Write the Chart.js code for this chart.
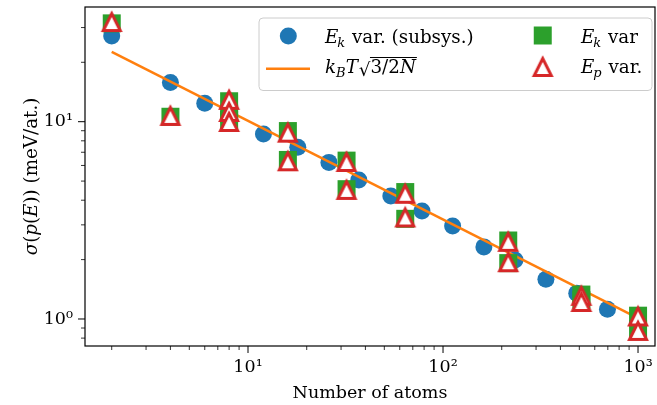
<!DOCTYPE html>
<html><head><meta charset="utf-8">
<script src="https://cdn.jsdelivr.net/npm/chart.js@4/dist/chart.umd.min.js"></script>
<style>html,body{margin:0;padding:0;background:#fff}#wrap{width:657px;height:405px}</style>
</head><body><div id="wrap"><canvas id="c" width="657" height="405"></canvas></div>
<script>
// ---- data ----
const subsysN = [2, 4, 6, 12, 18, 26, 37, 54, 78, 112, 162, 234, 337, 485, 697];
const subsysSigma = [27.2, 15.8, 12.4, 8.66, 7.42, 6.22, 5.07, 4.20, 3.53, 2.96, 2.32, 1.99, 1.59, 1.35, 1.12];
const fitN = [2, 1000];
const fitSigma = [22.6, 1.01];
const fullN = [2, 4, 8, 8, 8, 16, 16, 32, 32, 64, 64, 216, 216, 512, 512, 1000, 1000];
const ekSigma = [31.5, 10.6, 12.7, 11.0, 10.2, 8.97, 6.40, 6.35, 4.55, 4.40, 3.22, 2.50, 1.92, 1.33, 1.25, 1.04, 0.89];
const epSigma = [32.0, 10.7, 12.9, 11.2, 9.97, 8.80, 6.30, 6.25, 4.51, 4.31, 3.27, 2.46, 1.94, 1.31, 1.22, 1.03, 0.87];
const xMajorTicks = [10, 100, 1000];
const xMajorLabels = ['10\u00B9', '10\u00B2', '10\u00B3'];
const xMinorTicks = [2,3,4,5,6,7,8,9,20,30,40,50,60,70,80,90,200,300,400,500,600,700,800,900];
const yMajorTicks = [1, 10];
const yMajorLabels = ['10\u2070', '10\u00B9'];
const yMinorTicks = [0.8, 0.9, 2,3,4,5,6,7,8,9, 20, 30];
const legendLabels = ['E_k var. (subsys.)', 'k_BT sqrt(3/2N)', 'E_k var', 'E_p var.'];

const FONT = '"DejaVu Serif", "Liberation Serif", serif';
const FS = 17.5;      // ticks and x title
const LFS = 18.3;     // legend and y title

// marker images (matplotlib-like)
function makeTri() {
  const c = document.createElement('canvas'); c.width = 30; c.height = 30;
  const g = c.getContext('2d'); const a = 8.5, m = 15;
  g.beginPath(); g.moveTo(m, m - a); g.lineTo(m - a, m + a); g.lineTo(m + a, m + a); g.closePath();
  g.fillStyle = '#ffffff'; g.fill();
  g.lineJoin = 'miter'; g.lineWidth = 3; g.strokeStyle = '#d62728'; g.stroke();
  return c;
}
function makeSq() {
  const c = document.createElement('canvas'); c.width = 20; c.height = 20;
  const g = c.getContext('2d'); g.fillStyle = '#2ca02c'; g.fillRect(1, 1, 18, 18);
  return c;
}
const triImg = makeTri();
const sqImg = makeSq();

function pts(xs, ys) { return xs.map((x, i) => ({x: x, y: ys[i]})); }

function segW(ctx, s) { ctx.font = (s.it ? 'italic ' : '') + (s.sz || LFS) + 'px ' + FONT; return ctx.measureText(s.t).width; }
function drawRich(ctx, segs, x, y) {
  let cx = x;
  for (const s of segs) {
    ctx.font = (s.it ? 'italic ' : '') + (s.sz || LFS) + 'px ' + FONT;
    ctx.fillText(s.t, cx, y + (s.dy || 0));
    cx += ctx.measureText(s.t).width + (s.gap || 0);
  }
  return cx;
}

const decorPlugin = {
  id: 'decor',
  afterDraw(chart) {
    const ctx = chart.ctx; const a = chart.chartArea;
    const xs = chart.scales.x, ys = chart.scales.y;
    ctx.save();
    // frame
    ctx.strokeStyle = '#000'; ctx.lineWidth = 1.2;
    ctx.strokeRect(a.left, a.top, a.right - a.left, a.bottom - a.top);
    // ticks
    ctx.lineWidth = 1;
    ctx.beginPath();
    xMajorTicks.forEach(v => { const p = xs.getPixelForValue(v); ctx.moveTo(p, a.bottom); ctx.lineTo(p, a.bottom + 7); });
    yMajorTicks.forEach(v => { const p = ys.getPixelForValue(v); ctx.moveTo(a.left, p); ctx.lineTo(a.left - 7, p); });
    ctx.stroke();
    ctx.lineWidth = 0.8;
    ctx.beginPath();
    xMinorTicks.forEach(v => { const p = xs.getPixelForValue(v); ctx.moveTo(p, a.bottom); ctx.lineTo(p, a.bottom + 4); });
    yMinorTicks.forEach(v => { const p = ys.getPixelForValue(v); ctx.moveTo(a.left, p); ctx.lineTo(a.left - 4, p); });
    ctx.stroke();

    // y title
    ctx.fillStyle = '#000'; ctx.textBaseline = 'alphabetic'; ctx.textAlign = 'left';
    const ySegs = [{t:'\u03C3', it:true}, {t:'('}, {t:'p', it:true}, {t:'('}, {t:'E', it:true}, {t:'))'}, {t:' (meV/at.)'}];
    let w = 0; ySegs.forEach(s => w += segW(ctx, s));
    ctx.save();
    ctx.translate(36.5, (a.top + a.bottom) / 2);
    ctx.rotate(-Math.PI / 2);
    drawRich(ctx, ySegs, -w / 2, 0);
    ctx.restore();

    // legend box
    const bx = 259, by = 18, bw = 393, bh = 72.5, r = 4;
    ctx.beginPath();
    ctx.moveTo(bx + r, by); ctx.lineTo(bx + bw - r, by); ctx.quadraticCurveTo(bx + bw, by, bx + bw, by + r);
    ctx.lineTo(bx + bw, by + bh - r); ctx.quadraticCurveTo(bx + bw, by + bh, bx + bw - r, by + bh);
    ctx.lineTo(bx + r, by + bh); ctx.quadraticCurveTo(bx, by + bh, bx, by + bh - r);
    ctx.lineTo(bx, by + r); ctx.quadraticCurveTo(bx, by, bx + r, by); ctx.closePath();
    ctx.fillStyle = 'rgba(255,255,255,0.8)'; ctx.fill();
    ctx.strokeStyle = '#cccccc'; ctx.lineWidth = 1; ctx.stroke();

    // legend markers
    ctx.fillStyle = '#1f77b4';
    ctx.beginPath(); ctx.arc(288.3, 36, 8.5, 0, Math.PI * 2); ctx.fill();
    ctx.strokeStyle = '#ff7f0e'; ctx.lineWidth = 2.5;
    ctx.beginPath(); ctx.moveTo(266, 68.7); ctx.lineTo(310, 68.7); ctx.stroke();
    ctx.drawImage(sqImg, 542.7 - 10, 35.5 - 10);
    ctx.drawImage(triImg, 542.7 - 15, 67 - 15);

    // legend texts
    ctx.fillStyle = '#000';
    const sub = {sz: 13, dy: 4, it: true};
    drawRich(ctx, [{t:'E', it:true, gap:-1}, Object.assign({t:'k', gap:1}, sub), {t:' var. (subsys.)'}], 325, 43.3);
    let ex = drawRich(ctx, [{t:'k', it:true}, Object.assign({t:'B'}, sub), {t:'T', it:true, gap:1}], 325, 72.5);
    ctx.font = LFS + 'px ' + FONT;
    ctx.fillText('\u221A', ex, 75.5);
    const rw = ctx.measureText('\u221A').width;
    const endX = drawRich(ctx, [{t:'3/2'}, {t:'N', it:true}], ex + rw, 72.5);
    ctx.strokeStyle = '#000'; ctx.lineWidth = 1;
    ctx.beginPath(); ctx.moveTo(ex + rw - 0.5, 57.5); ctx.lineTo(endX + 1, 57.5); ctx.stroke();
    drawRich(ctx, [{t:'E', it:true, gap:-1}, Object.assign({t:'k', gap:1}, sub), {t:' var'}], 581, 43.3);
    drawRich(ctx, [{t:'E', it:true, gap:-1}, Object.assign({t:'p', gap:1}, sub), {t:' var.'}], 581, 73);
    ctx.restore();
  }
};

const tickFont = {family: FONT, size: FS};

new Chart(document.getElementById('c'), {
  type: 'scatter',
  data: {
    datasets: [
      {label: legendLabels[3], data: pts(fullN, epSigma), pointStyle: triImg, pointRadius: 11, order: 0},
      {label: legendLabels[2], data: pts(fullN, ekSigma), pointStyle: sqImg, pointRadius: 9, order: 1},
      {label: legendLabels[1], data: pts(fitN, fitSigma), showLine: true, pointRadius: 0, borderColor: '#ff7f0e', borderWidth: 2.5, order: 2},
      {label: legendLabels[0], data: pts(subsysN, subsysSigma), pointStyle: 'circle', pointRadius: 8.5, pointBackgroundColor: '#1f77b4', pointBorderWidth: 0, order: 3}
    ]
  },
  options: {
    responsive: false, animation: false, devicePixelRatio: 1,
    layout: {autoPadding: false, padding: {left: 0, right: 2, top: 7, bottom: 0}},
    plugins: {legend: {display: false}, tooltip: {enabled: false}},
    scales: {
      x: {
        type: 'logarithmic', min: 1.459, max: 1222, bounds: 'data',
        afterBuildTicks: s => { s.ticks = xMajorTicks.map(v => ({value: v})); },
        afterFit: s => { s.height = 59; s.paddingLeft = 0; s.paddingRight = 0; },
        grid: {display: true, drawOnChartArea: false, drawTicks: true, tickLength: 7, tickColor: 'rgba(0,0,0,0)'},
        border: {display: false},
        ticks: {autoSkip: false, maxRotation: 0, color: '#000', font: tickFont, padding: 4,
                callback: (v) => { const i = xMajorTicks.indexOf(v); return i >= 0 ? xMajorLabels[i] : ''; }},
        title: {display: true, text: 'Number of atoms', color: '#000', font: {family: FONT, size: FS}, padding: {top: 0, bottom: 1}}
      },
      y: {
        type: 'logarithmic', min: 0.7297, max: 38.13, bounds: 'data',
        afterBuildTicks: s => { s.ticks = yMajorTicks.map(v => ({value: v})); },
        afterFit: s => { s.width = 85; s.paddingTop = 0; s.paddingBottom = 0; },
        grid: {display: true, drawOnChartArea: false, drawTicks: true, tickLength: 7, tickColor: 'rgba(0,0,0,0)'},
        border: {display: false},
        ticks: {autoSkip: false, color: '#000', font: tickFont, padding: 5,
                callback: (v) => { const i = yMajorTicks.indexOf(v); return i >= 0 ? yMajorLabels[i] : ''; }}
      }
    }
  },
  plugins: [decorPlugin]
});
</script>
</body></html>
